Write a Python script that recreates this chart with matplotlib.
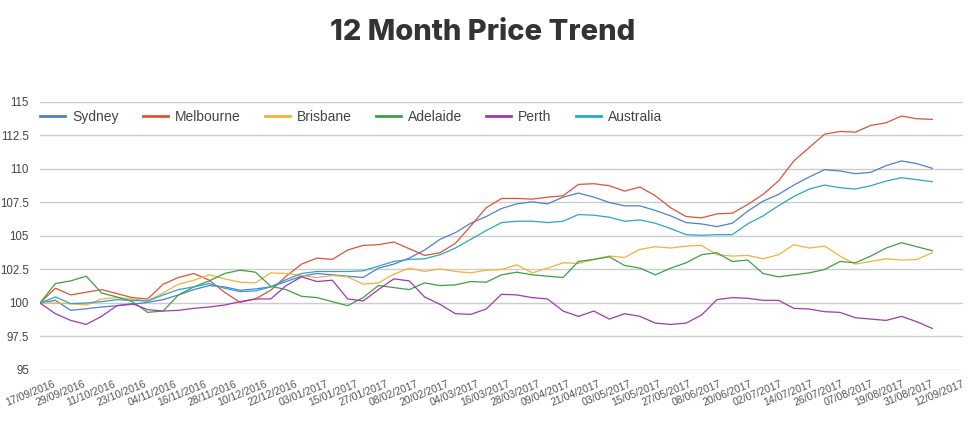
import matplotlib
matplotlib.use("Agg")
import matplotlib.pyplot as plt
import matplotlib.transforms as mtrans
import pandas as pd

# readings every 6 days, 17/09/2016 .. 31/08/2017
dates = pd.date_range("2016-09-17", periods=59, freq="6D")
tick_dates = pd.date_range("2016-09-17", periods=31, freq="12D")

sydney = [100.0, 100.2, 99.45, 99.57, 99.7, 99.8, 99.9, 100.05, 100.25, 100.6,
          101.0, 101.3, 101.2, 100.95, 101.05, 101.2, 101.6, 102.0, 102.2, 102.1,
          102.0, 101.9, 102.6, 102.9, 103.35, 103.95, 104.75, 105.25, 105.95, 106.45,
          107.05, 107.4, 107.55, 107.4, 107.9, 108.2, 107.9, 107.5, 107.25, 107.25,
          106.9, 106.5, 106.0, 105.9, 105.7, 105.95, 106.85, 107.6, 108.1, 108.8,
          109.4, 109.95, 109.85, 109.65, 109.75, 110.25, 110.6, 110.4, 110.05]
melbourne = [100.0, 101.1, 100.6, 100.8, 101.0, 100.7, 100.4, 100.3, 101.4, 101.9,
             102.2, 101.7, 100.8, 100.05, 100.3, 100.95, 102.0, 102.9, 103.35, 103.25,
             103.95, 104.3, 104.35, 104.55, 104.05, 103.55, 103.75, 104.45, 105.75, 107.1,
             107.8, 107.8, 107.75, 107.9, 108.0, 108.85, 108.9, 108.75, 108.35, 108.65,
             108.0, 107.1, 106.45, 106.35, 106.65, 106.7, 107.35, 108.1, 109.1, 110.6,
             111.6, 112.6, 112.8, 112.75, 113.25, 113.45, 113.95, 113.75, 113.7]
brisbane = [100.0, 100.0, 99.95, 99.85, 100.3, 100.4, 100.3, 100.15, 100.75, 101.4,
            101.7, 102.1, 101.8, 101.55, 101.5, 102.25, 102.2, 102.05, 101.9, 102.05,
            101.95, 101.4, 101.5, 102.15, 102.6, 102.35, 102.55, 102.35, 102.25, 102.45,
            102.5, 102.85, 102.25, 102.6, 103.0, 102.95, 103.25, 103.5, 103.4, 104.0,
            104.2, 104.1, 104.25, 104.3, 103.6, 103.5, 103.55, 103.3, 103.6, 104.35,
            104.1, 104.25, 103.5, 102.9, 103.1, 103.3, 103.2, 103.25, 103.75]
adelaide = [100.0, 101.45, 101.65, 102.0, 100.75, 100.45, 100.1, 99.3, 99.4, 100.6,
            101.2, 101.65, 102.2, 102.45, 102.3, 101.25, 101.0, 100.5, 100.4, 100.1,
            99.8, 100.4, 101.3, 101.15, 101.0, 101.5, 101.3, 101.35, 101.6, 101.55,
            102.1, 102.3, 102.1, 102.0, 101.9, 103.1, 103.25, 103.45, 102.8, 102.6,
            102.1, 102.6, 103.0, 103.6, 103.75, 103.1, 103.2, 102.2, 101.95, 102.1,
            102.25, 102.5, 103.1, 103.0, 103.5, 104.1, 104.5, 104.2, 103.9]
perth = [100.0, 99.2, 98.7, 98.4, 99.0, 99.8, 99.95, 99.5, 99.4, 99.45,
         99.6, 99.7, 99.85, 100.1, 100.3, 100.3, 101.3, 101.95, 101.6, 101.7,
         100.3, 100.15, 101.0, 101.8, 101.65, 100.45, 99.9, 99.2, 99.15, 99.55,
         100.65, 100.6, 100.4, 100.3, 99.4, 99.0, 99.4, 98.8, 99.2, 99.0,
         98.5, 98.4, 98.5, 99.1, 100.25, 100.4, 100.35, 100.2, 100.2, 99.6,
         99.55, 99.35, 99.3, 98.9, 98.8, 98.7, 99.0, 98.6, 98.1]
australia = [100.0, 100.45, 99.95, 100.0, 100.1, 100.25, 100.2, 100.15, 100.6, 101.0,
             101.2, 101.45, 101.1, 100.85, 100.9, 101.2, 101.75, 102.2, 102.35, 102.35,
             102.35, 102.4, 102.75, 103.1, 103.25, 103.3, 103.6, 104.1, 104.75, 105.4,
             106.0, 106.1, 106.1, 106.0, 106.1, 106.6, 106.55, 106.4, 106.1, 106.2,
             105.95, 105.55, 105.1, 105.05, 105.1, 105.1, 105.9, 106.5, 107.25, 107.95,
             108.5, 108.8, 108.6, 108.5, 108.75, 109.1, 109.35, 109.2, 109.05]

series = [("Sydney", sydney, "#4f80cf"),
          ("Melbourne", melbourne, "#db5437"),
          ("Brisbane", brisbane, "#f4b23a"),
          ("Adelaide", adelaide, "#3f9f45"),
          ("Perth", perth, "#a03aae"),
          ("Australia", australia, "#2ba6c9")]

plt.rcParams["font.family"] = ["Liberation Sans", "DejaVu Sans"]

fig = plt.figure(figsize=(9.71, 4.33), dpi=100)
ax = fig.add_axes([0.0412, 0.1455, 0.9506, 0.619])

for name, vals, col in series:
    ax.plot(dates, vals, color=col, linewidth=0.9, label=name)

ax.set_ylim(95, 115)
ax.set_yticks([95, 97.5, 100, 102.5, 105, 107.5, 110, 112.5, 115])
ax.set_yticklabels(["95", "97.5", "100", "102.5", "105", "107.5", "110", "112.5", "115"])
ax.set_xlim(tick_dates[0], tick_dates[-1])
ax.set_xticks(tick_dates)
ax.set_xticklabels([])

# slanted date labels; the original packs them a little tighter than the ticks
base = mtrans.blended_transform_factory(ax.transData, ax.transAxes)
n = len(tick_dates) - 1
for i, d in enumerate(tick_dates):
    dx = (13 - 14 * i / n) / 100
    shift = mtrans.ScaledTranslation(dx, -9 / 100, fig.dpi_scale_trans)
    ax.text(d, 0, d.strftime("%d/%m/%Y"), transform=base + shift,
            rotation=22, ha="right", va="top", rotation_mode="anchor",
            fontsize=7.6, color="#555555", clip_on=False)

ax.grid(axis="y", color="#cccccc", linewidth=1)
ax.set_axisbelow(True)
for s in ax.spines.values():
    s.set_visible(False)
ax.tick_params(axis="y", length=0, pad=8, labelsize=8.3, labelcolor="#444444")
ax.tick_params(axis="x", length=0)

ax.legend(loc="center left", bbox_to_anchor=(0, 0.944), ncol=6, frameon=False,
          fontsize=10, borderpad=0, borderaxespad=0, handlelength=1.8,
          handletextpad=0.5, columnspacing=1.75, labelcolor="#444444")
for line in ax.get_legend().get_lines():
    line.set_linewidth(2)

fig.text(0.497, 1 - 33 / 433, "12 Month Price Trend", ha="center", va="center",
         fontsize=21, fontweight=800, color="#333333", family="Inter")

fig.savefig("out.png", dpi=100)
